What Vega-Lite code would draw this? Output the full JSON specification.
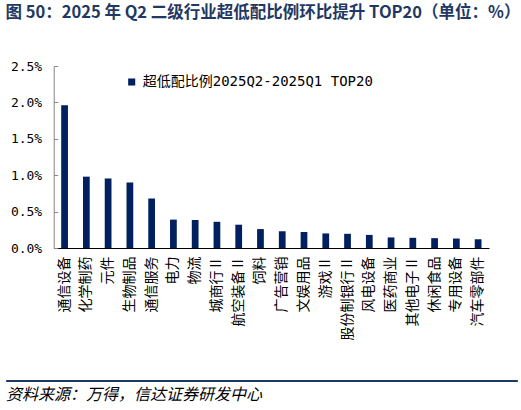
{
  "$schema": "https://vega.github.io/schema/vega-lite/v6.json",
  "background": "white",
  "padding": {"left": 5, "top": 4, "right": 5, "bottom": 5},
  "title": {
    "text": "图 50：2025 年 Q2 二级行业超低配比例环比提升 TOP20（单位：%）",
    "anchor": "start",
    "font": "Noto Sans CJK SC",
    "fontSize": 16.5,
    "fontWeight": "bold",
    "color": "#1f3864",
    "offset": 39
  },
  "columns": 1,
  "spacing": 39,
  "concat": [
    {
      "width": 483,
      "height": 182,
      "view": {"stroke": null},
      "data": {
        "values": [
          {"industry": "通信设备", "value": 1.96},
          {"industry": "化学制药", "value": 0.98},
          {"industry": "元件", "value": 0.955},
          {"industry": "生物制品", "value": 0.9},
          {"industry": "通信服务", "value": 0.68},
          {"industry": "电力", "value": 0.39},
          {"industry": "物流", "value": 0.385},
          {"industry": "城商行Ⅱ", "value": 0.36},
          {"industry": "航空装备Ⅱ", "value": 0.32},
          {"industry": "饲料", "value": 0.26},
          {"industry": "广告营销", "value": 0.23},
          {"industry": "文娱用品", "value": 0.22},
          {"industry": "游戏Ⅱ", "value": 0.2},
          {"industry": "股份制银行Ⅱ", "value": 0.195},
          {"industry": "风电设备", "value": 0.18},
          {"industry": "医药商业", "value": 0.145},
          {"industry": "其他电子Ⅱ", "value": 0.14},
          {"industry": "休闲食品", "value": 0.135},
          {"industry": "专用设备", "value": 0.13},
          {"industry": "汽车零部件", "value": 0.12}
        ]
      },
      "mark": {"type": "bar", "width": {"band": 0.31}},
      "encoding": {
        "x": {
          "field": "industry",
          "type": "nominal",
          "sort": null,
          "scale": {"paddingInner": 0, "paddingOuter": 0, "range": [47.7, 483]},
          "axis": {
            "title": null,
            "labelAngle": -90,
            "labelFont": "Noto Sans CJK SC",
            "labelFontSize": 14,
            "labelColor": "#000000",
            "labelPadding": 8,
            "ticks": false,
            "domainColor": "#000000",
            "domainWidth": 1
          }
        },
        "y": {
          "field": "value",
          "type": "quantitative",
          "scale": {"domain": [0, 2.5]},
          "axis": {
            "title": null,
            "offset": -47.7,
            "values": [0, 0.5, 1, 1.5, 2, 2.5],
            "labelExpr": "format(datum.value, '.1f') + '%'",
            "labelFont": "DejaVu Sans Mono",
            "labelFontSize": 13,
            "labelColor": "#000000",
            "labelPadding": 16,
            "grid": false,
            "domainColor": "#868686",
            "tickColor": "#868686",
            "tickSize": -4
          }
        },
        "color": {
          "datum": "超低配比例2025Q2-2025Q1 TOP20",
          "scale": {"range": ["#002060"]},
          "legend": {
            "title": null,
            "orient": "none",
            "legendX": 118.7,
            "legendY": 9,
            "symbolType": "square",
            "symbolSize": 50,
            "symbolStrokeWidth": 0,
            "labelFont": "'DejaVu Sans Mono', 'Noto Sans CJK SC'",
            "labelFontSize": 14,
            "labelColor": "#000000",
            "labelLimit": 400
          }
        }
      }
    },
    {
      "width": 511,
      "height": 1,
      "view": {"stroke": "#1f3864", "strokeWidth": 1, "fill": "#1f3864"},
      "title": {
        "text": "资料来源：万得，信达证券研发中心",
        "orient": "bottom",
        "anchor": "start",
        "font": "Noto Sans CJK SC",
        "fontSize": 16,
        "fontWeight": "normal",
        "fontStyle": "italic",
        "color": "#000000",
        "offset": 6
      },
      "data": {"values": []},
      "mark": "rule",
      "encoding": {}
    }
  ]
}
